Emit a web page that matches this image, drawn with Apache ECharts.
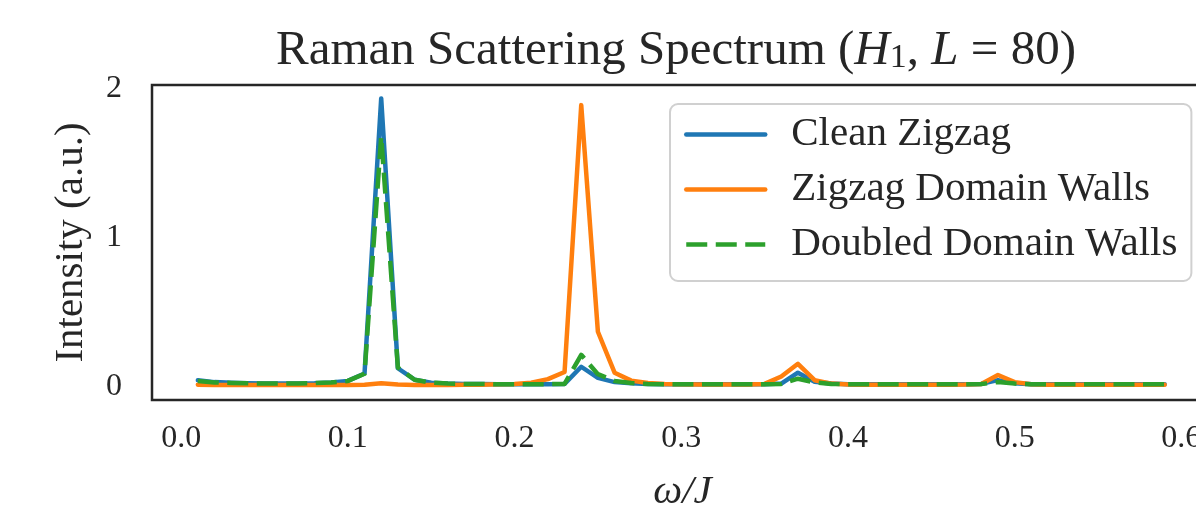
<!DOCTYPE html>
<html>
<head>
<meta charset="utf-8">
<script src="https://cdn.jsdelivr.net/npm/echarts@6/dist/echarts.min.js"></script>
<style>
html,body{margin:0;padding:0;background:#ffffff;}
#chart{width:1196px;height:506px;}
</style>
</head>
<body>
<div id="chart"></div>
<script>
// ---- data ----
const freq = [
  0.01,0.02,0.03,0.04,0.05,0.06,0.07,0.08,0.09,0.10,
  0.11,0.12,0.13,0.14,0.15,0.16,0.17,0.18,0.19,0.20,
  0.21,0.22,0.23,0.24,0.25,0.26,0.27,0.28,0.29,0.30,
  0.31,0.32,0.33,0.34,0.35,0.36,0.37,0.38,0.39,0.40,
  0.41,0.42,0.43,0.44,0.45,0.46,0.47,0.48,0.49,0.50,
  0.51,0.52,0.53,0.54,0.55,0.56,0.57,0.58,0.59
];
const cleanZigzag = [
  0.045,0.032,0.027,0.024,0.022,0.022,0.023,0.025,0.030,0.040,
  0.090,1.935,0.125,0.048,0.028,0.022,0.020,0.019,0.018,0.018,
  0.018,0.018,0.020,0.135,0.060,0.032,0.024,0.020,0.018,0.017,
  0.017,0.017,0.017,0.017,0.017,0.022,0.095,0.035,0.022,0.018,
  0.017,0.017,0.017,0.017,0.017,0.017,0.017,0.020,0.045,0.025,
  0.018,0.017,0.017,0.017,0.017,0.017,0.017,0.017,0.017
];
const zigzagDomainWalls = [
  0.015,0.012,0.012,0.012,0.012,0.012,0.012,0.012,0.012,0.013,
  0.015,0.025,0.016,0.013,0.013,0.013,0.014,0.015,0.017,0.020,
  0.028,0.052,0.100,1.890,0.370,0.095,0.042,0.026,0.020,0.017,
  0.016,0.016,0.016,0.016,0.020,0.070,0.155,0.045,0.022,0.016,
  0.015,0.015,0.015,0.015,0.015,0.015,0.016,0.020,0.080,0.032,
  0.018,0.015,0.015,0.015,0.015,0.015,0.015,0.015,0.015
];
const doubledDomainWalls = [
  0.040,0.030,0.026,0.024,0.022,0.022,0.023,0.025,0.030,0.040,
  0.088,1.680,0.130,0.048,0.028,0.022,0.020,0.019,0.018,0.018,
  0.018,0.018,0.020,0.215,0.085,0.040,0.026,0.020,0.018,0.017,
  0.017,0.017,0.017,0.017,0.017,0.020,0.055,0.030,0.020,0.017,
  0.017,0.017,0.017,0.017,0.017,0.017,0.017,0.019,0.032,0.022,
  0.018,0.017,0.017,0.017,0.017,0.017,0.017,0.017,0.017
];
const seriesNames = ['Clean Zigzag', 'Zigzag Domain Walls', 'Doubled Domain Walls'];
const xTicks = [0.0, 0.1, 0.2, 0.3, 0.4, 0.5, 0.6];
const yTicks = [0, 1, 2];

// ---- styling ----
const SERIF = 'Liberation Serif';
const INK = '#262626';
const colors = ['#1f77b4', '#ff7f0e', '#2ca02c'];

function pairs(ys) { return freq.map((x, i) => [x, ys[i]]); }

const chart = echarts.init(document.getElementById('chart'), null, {renderer: 'canvas'});

const option = {
  backgroundColor: '#ffffff',
  animation: false,
  grid: {
    left: 152, top: 85, width: 1061, height: 315,
    outerBoundsMode: 'none', containLabel: false,
    show: true, borderColor: INK, borderWidth: 2.5, backgroundColor: 'transparent'
  },
  xAxis: {
    type: 'value', min: -0.0175, max: 0.619,
    axisLine: {show: false}, axisTick: {show: false}, splitLine: {show: false},
    axisLabel: {
      customValues: xTicks,
      formatter: v => v.toFixed(1),
      fontFamily: SERIF, fontSize: 32, color: INK, margin: 23
    },
    name: 'ω/J', nameLocation: 'middle', nameGap: 72,
    nameTextStyle: {fontFamily: SERIF, fontStyle: 'italic', fontSize: 41, color: INK}
  },
  yAxis: {
    type: 'value', min: -0.088, max: 2.025,
    axisLine: {show: false}, axisTick: {show: false}, splitLine: {show: false},
    axisLabel: {
      customValues: yTicks,
      formatter: v => String(v),
      fontFamily: SERIF, fontSize: 32, color: INK, margin: 30,
      padding: [6, 0, 0, 0]
    },
    name: 'Intensity (a.u.)', nameLocation: 'middle', nameGap: 60, nameRotate: 90,
    nameTextStyle: {fontFamily: SERIF, fontSize: 41, color: INK}
  },
  legend: {
    data: seriesNames,
    orient: 'vertical', left: 670, top: 104,
    itemWidth: 79, itemHeight: 30, itemGap: 14,
    padding: [10, 14, 16, 14],
    backgroundColor: 'rgba(255,255,255,0.85)',
    borderColor: '#d0d0d0', borderWidth: 2, borderRadius: 8,
    selectedMode: false,
    lineStyle: {width: 4.5},
    itemStyle: {opacity: 0, borderWidth: 0},
    textStyle: {fontFamily: SERIF, fontSize: 41, color: INK, lineHeight: 30, padding: [0, 0, 0, 21]}
  },
  graphic: [{
    type: 'text', x: 676, y: 51, silent: true,
    style: {
      text: 'Raman Scattering Spectrum ({i|H}{s|1}, {i|L} = 80)',
      fontFamily: SERIF, fontSize: 49, fill: INK,
      align: 'center', verticalAlign: 'middle',
      textAlign: 'center', textVerticalAlign: 'middle',
      rich: {
        i: {fontFamily: SERIF, fontStyle: 'italic', fontSize: 49, fill: INK},
        s: {fontFamily: SERIF, fontSize: 34, lineHeight: 10, verticalAlign: 'bottom', fill: INK}
      }
    }
  }],
  series: [
    {
      name: seriesNames[0], type: 'line', data: pairs(cleanZigzag),
      symbol: 'none', showSymbol: false, color: colors[0],
      lineStyle: {width: 4.5, color: colors[0], cap: 'round', join: 'round'}
    },
    {
      name: seriesNames[1], type: 'line', data: pairs(zigzagDomainWalls),
      symbol: 'none', showSymbol: false, color: colors[1],
      lineStyle: {width: 4.5, color: colors[1], cap: 'round', join: 'round'}
    },
    {
      name: seriesNames[2], type: 'line', data: pairs(doubledDomainWalls),
      symbol: 'none', showSymbol: false, color: colors[2],
      lineStyle: {width: 4.5, color: colors[2], type: [21, 8.5], cap: 'butt', join: 'round'}
    }
  ]
};
chart.setOption(option);
</script>
</body>
</html>
